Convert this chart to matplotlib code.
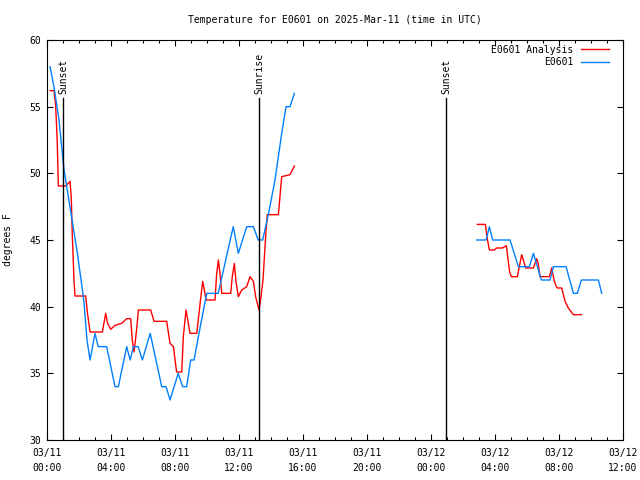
import numpy as np
import pandas as pd
import matplotlib
matplotlib.use("Agg")
import matplotlib.pyplot as plt
import matplotlib.dates as mdates

plt.rcParams['font.family'] = ['DejaVu Sans Mono']
plt.rcParams['font.size'] = 7

base = pd.Timestamp('2025-03-11 00:00')

# observed E0601 (hours after base, degF)
obs_hours_1 = [0.19, 0.45, 0.75, 1.06, 1.5, 1.9, 2.3, 2.5, 2.69, 3.0, 3.2, 3.73, 4.25, 4.46,
               4.98, 5.2, 5.4, 5.7, 5.96, 6.45, 7.17, 7.44, 7.69, 8.2, 8.48, 8.73, 8.98, 9.19,
               9.5, 9.98, 10.7, 11.64, 11.96, 12.48, 12.9, 13.2, 13.48, 13.9, 14.25, 14.67,
               14.94, 15.19, 15.46]
obs_temp_1 = [58, 56.4, 54, 50.3, 47, 44, 40.5, 37.5, 36, 38, 37, 37, 34, 34,
              37, 36, 37, 37, 36, 38, 34, 34, 33, 35, 34, 34, 36, 36,
              38, 41, 41, 46, 44, 46, 46, 45, 45, 47.3, 49.5, 53,
              55, 55, 56]
obs_hours_2 = [26.86, 27.44, 27.65, 27.85, 28.94, 29.46, 30.15, 30.4, 30.9, 31.44, 31.65,
               32.44, 32.9, 33.15, 33.4, 34.46, 34.67]
obs_temp_2 = [45, 45, 46, 45, 45, 43, 43, 44, 42, 42, 43, 43, 41, 41, 42, 42, 41]

# analysis E0601
ana_hours_1 = [0.19, 0.44, 0.54, 0.64, 0.69, 0.71, 1.17, 1.44, 1.52, 1.58, 1.69, 1.75, 2.42,
               2.52, 2.69, 3.46, 3.67, 3.77, 3.98, 4.25, 4.67, 4.98, 5.23, 5.33, 5.44, 5.6,
               5.71, 6.48, 6.69, 7.48, 7.69, 7.9, 8.1, 8.42, 8.52, 8.69, 8.94, 9.36, 9.57,
               9.73, 9.81, 9.94, 10.5, 10.6, 10.71, 10.81, 10.92, 11.48, 11.58, 11.71, 11.81,
               11.96, 12.17, 12.48, 12.69, 12.9, 13.04, 13.25, 13.35, 13.5, 13.69, 13.77,
               14.46, 14.67, 15.19, 15.46]
ana_temp_1 = [56.2, 56.2, 55.1, 52.4, 49.9, 49.05, 49.05, 49.4, 48.1, 45.4, 41.9, 40.8, 40.8,
              39.6, 38.1, 38.1, 39.5, 38.8, 38.3, 38.6, 38.75, 39.1, 39.1, 37.5, 36.6, 38.25,
              39.75, 39.75, 38.9, 38.9, 37.25, 37.0, 35.1, 35.1, 37.75, 39.75, 38.0, 38.0, 40.25,
              41.9, 41.4, 40.5, 40.5, 42.4, 43.5, 42.5, 41.0, 41.0, 42.25, 43.25, 41.9,
              40.75, 41.25, 41.5, 42.25, 41.9, 40.75, 39.75, 40.5, 42.0, 45.75, 46.9,
              46.9, 49.75, 49.9, 50.55]
ana_hours_2 = [26.9, 27.4, 27.5, 27.65, 27.96, 28.1, 28.46, 28.71, 28.81, 28.92, 29.02, 29.4,
               29.52, 29.67, 29.77, 29.92, 30.4, 30.6, 30.71, 30.81, 31.4, 31.54, 31.69, 31.83,
               31.9, 32.17, 32.38, 32.58, 32.9, 33.4]
ana_temp_2 = [46.17, 46.17, 45.2, 44.25, 44.25, 44.4, 44.4, 44.57, 43.6, 42.6, 42.25, 42.25,
              43.0, 43.9, 43.5, 42.9, 42.9, 43.6, 43.2, 42.25, 42.25, 42.9, 42.0, 41.5,
              41.4, 41.4, 40.4, 39.9, 39.4, 39.4]

sun_hours = [1.0, 13.27, 24.95]
sun_labels = ['Sunset', 'Sunrise', 'Sunset']


def to_time(hours):
    return base + pd.to_timedelta(np.array(hours), unit='h')


def join(h1, v1, h2, v2):
    # NaN between the two runs leaves the overnight gap
    h = list(h1) + [(h1[-1] + h2[0]) / 2] + list(h2)
    v = list(v1) + [np.nan] + list(v2)
    return to_time(h), np.array(v, dtype=float)


fig = plt.figure(figsize=(6.4, 4.8), dpi=100)
ax = fig.add_axes([47 / 640, 40 / 480, 576 / 640, 400 / 480])

t_ana, v_ana = join(ana_hours_1, ana_temp_1, ana_hours_2, ana_temp_2)
t_obs, v_obs = join(obs_hours_1, obs_temp_1, obs_hours_2, obs_temp_2)
ax.plot(t_ana, v_ana, color='#ff0000', lw=1.0, label='E0601 Analysis')
ax.plot(t_obs, v_obs, color='#0080ff', lw=1.0, label='E0601')

for h, lab in zip(sun_hours, sun_labels):
    ts = to_time([h])[0]
    ax.axvline(ts, ymin=0, ymax=(440 - 98) / 400, color='black', lw=1.0)
    ax.text(ts, 55.95, lab, rotation=90, ha='center', va='bottom', fontsize=7)

ax.set_xlim(base, base + pd.Timedelta(hours=36))
ax.set_ylim(30, 60)
ax.set_yticks(np.arange(30, 61, 5))
ax.xaxis.set_major_locator(mdates.HourLocator(byhour=[0, 4, 8, 12, 16, 20]))
ax.xaxis.set_minor_locator(mdates.HourLocator())
ax.xaxis.set_major_formatter(mdates.DateFormatter('%m/%d\n%H:%M'))
ax.tick_params(which='both', direction='in', top=True, right=True, width=0.8)
ax.tick_params(which='major', length=4)
ax.tick_params(which='minor', length=2)
ax.tick_params(axis='x', which='major', pad=6)
ax.tick_params(axis='y', which='major', pad=4)
for lbl in ax.get_xticklabels():
    lbl.set_linespacing(1.6)
for s in ax.spines.values():
    s.set_linewidth(0.8)

ax.set_ylabel('degrees F', labelpad=12)
ax.set_title('Temperature for E0601 on 2025-Mar-11 (time in UTC)', pad=12, fontsize=7)
ax.legend(loc='upper right', frameon=False, markerfirst=False, handlelength=2.9,
          labelspacing=0.25, borderaxespad=0.3, handletextpad=0.8, fontsize=7,
          bbox_to_anchor=(1 - 7 / 576, 1 + 2 / 400))

fig.savefig('out.png', dpi=100)
